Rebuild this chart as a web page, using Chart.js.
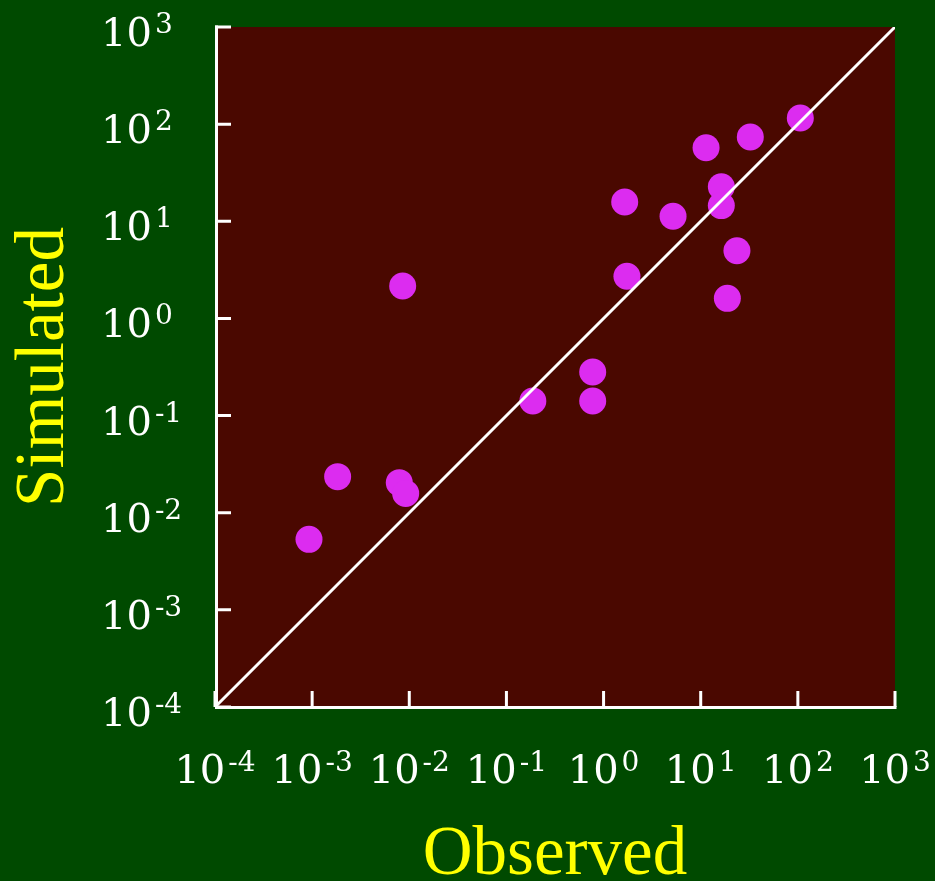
<!DOCTYPE html>
<html>
<head>
<meta charset="utf-8">
<script src="https://cdn.jsdelivr.net/npm/chart.js@4/dist/chart.umd.min.js"></script>
<style>
  html, body { margin: 0; padding: 0; background: #004a00; }
  #wrap { width: 935px; height: 881px; }
</style>
</head>
<body>
<div id="wrap"><canvas id="c" width="935" height="881"></canvas></div>
<script>
// ---- Data ----
const observed  = [0.000928, 0.00183, 0.00789, 0.00918, 0.00855, 0.187, 0.773, 0.773, 1.74, 1.65, 5.19, 11.35, 16.3, 16.3, 23.6, 18.8, 32.4, 106];
const simulated = [0.00532, 0.0235, 0.0204, 0.0158, 2.16, 0.141, 0.281, 0.141, 2.72, 15.8, 11.25, 57.2, 22.7, 14.5, 4.98, 1.61, 73.7, 115.6];
const lineEnds  = [0.0001, 1000];            // 1:1 reference line
const tickExponents = [-4, -3, -2, -1, 0, 1, 2, 3];
const xTitle = "Observed";
const yTitle = "Simulated";

const points = observed.map((v, i) => ({ x: v, y: simulated[i] }));
const diag = lineEnds.map(v => ({ x: v, y: v }));

const BG = '#004a00';
const PLOT_BG = '#4a0800';
const AXIS = '#ffffff';
const TITLE_COLOR = '#ffff00';

const decor = {
  id: 'decor',
  beforeDraw(chart) {
    const { ctx, chartArea: a } = chart;
    ctx.save();
    ctx.fillStyle = BG;
    ctx.fillRect(0, 0, chart.width, chart.height);
    ctx.fillStyle = PLOT_BG;
    ctx.fillRect(a.left, a.top, a.right - a.left, a.bottom - a.top);
    ctx.restore();
  },
  afterDraw(chart) {
    const { ctx, chartArea: a } = chart;
    const xs = chart.scales.x, ys = chart.scales.y;
    ctx.save();
    ctx.strokeStyle = AXIS;
    ctx.lineWidth = 3;
    ctx.lineCap = 'butt';
    // axis lines
    ctx.beginPath();
    ctx.moveTo(a.left + 1.5, a.top - 1.5);
    ctx.lineTo(a.left + 1.5, a.bottom + 1.5);
    ctx.moveTo(a.left, a.bottom + 0.5);
    ctx.lineTo(a.right + 1.5, a.bottom + 0.5);
    ctx.stroke();
    // inward ticks
    ctx.beginPath();
    tickExponents.forEach(e => {
      const v = Math.pow(10, e);
      const px = xs.getPixelForValue(v);
      const py = ys.getPixelForValue(v);
      ctx.moveTo(px, a.bottom);
      ctx.lineTo(px, a.bottom - 16);
      ctx.moveTo(a.left, py);
      ctx.lineTo(a.left + 16, py);
    });
    ctx.stroke();

    // tick labels with superscript exponents
    const baseFont = '40px "DejaVu Serif"';
    const expFont = '28px "DejaVu Serif"';
    ctx.fillStyle = AXIS;
    ctx.textBaseline = 'alphabetic';
    ctx.textAlign = 'left';
    tickExponents.forEach(e => {
      const v = Math.pow(10, e);
      const expStr = String(e);
      ctx.font = baseFont;
      const wb = ctx.measureText('10').width;
      ctx.font = expFont;
      const we = ctx.measureText(expStr).width;
      const gap = 3;
      // x axis label
      const px = xs.getPixelForValue(v);
      const sx = px - (wb + gap + we) / 2;
      ctx.font = baseFont;
      ctx.fillText('10', sx, 783);
      ctx.font = expFont;
      ctx.fillText(expStr, sx + wb + gap, 771);
      // y axis label
      const py = ys.getPixelForValue(v);
      ctx.font = baseFont;
      ctx.fillText('10', 101, py + 19);
      ctx.font = expFont;
      ctx.fillText(expStr, 101 + wb + gap, py + 6);
    });

    // axis titles
    ctx.fillStyle = TITLE_COLOR;
    ctx.font = '69px "Liberation Serif"';
    ctx.textAlign = 'center';
    ctx.fillText(xTitle, (a.left + a.right) / 2, 874);
    ctx.save();
    ctx.translate(63, (a.top + a.bottom) / 2);
    ctx.rotate(-Math.PI / 2);
    ctx.fillText(yTitle, 0, 0);
    ctx.restore();
    ctx.restore();
  }
};

new Chart(document.getElementById('c'), {
  type: 'scatter',
  data: {
    datasets: [
      {
        type: 'line',
        data: diag,
        borderColor: '#ffffff',
        borderWidth: 3,
        pointRadius: 0,
        fill: false,
        order: 0
      },
      {
        data: points,
        backgroundColor: '#dc2cf0',
        borderWidth: 0,
        pointRadius: 13.5,
        pointHoverRadius: 13.5,
        order: 1
      }
    ]
  },
  options: {
    responsive: false,
    devicePixelRatio: 1,
    animation: false,
    events: [],
    layout: { padding: { left: 215, right: 40, top: 27, bottom: 174 } },
    plugins: { legend: { display: false }, tooltip: { enabled: false }, title: { display: false } },
    scales: {
      x: { type: 'logarithmic', min: 1e-4, max: 1e3, display: false },
      y: { type: 'logarithmic', min: 1e-4, max: 1e3, display: false }
    }
  },
  plugins: [decor]
});
</script>
</body>
</html>
